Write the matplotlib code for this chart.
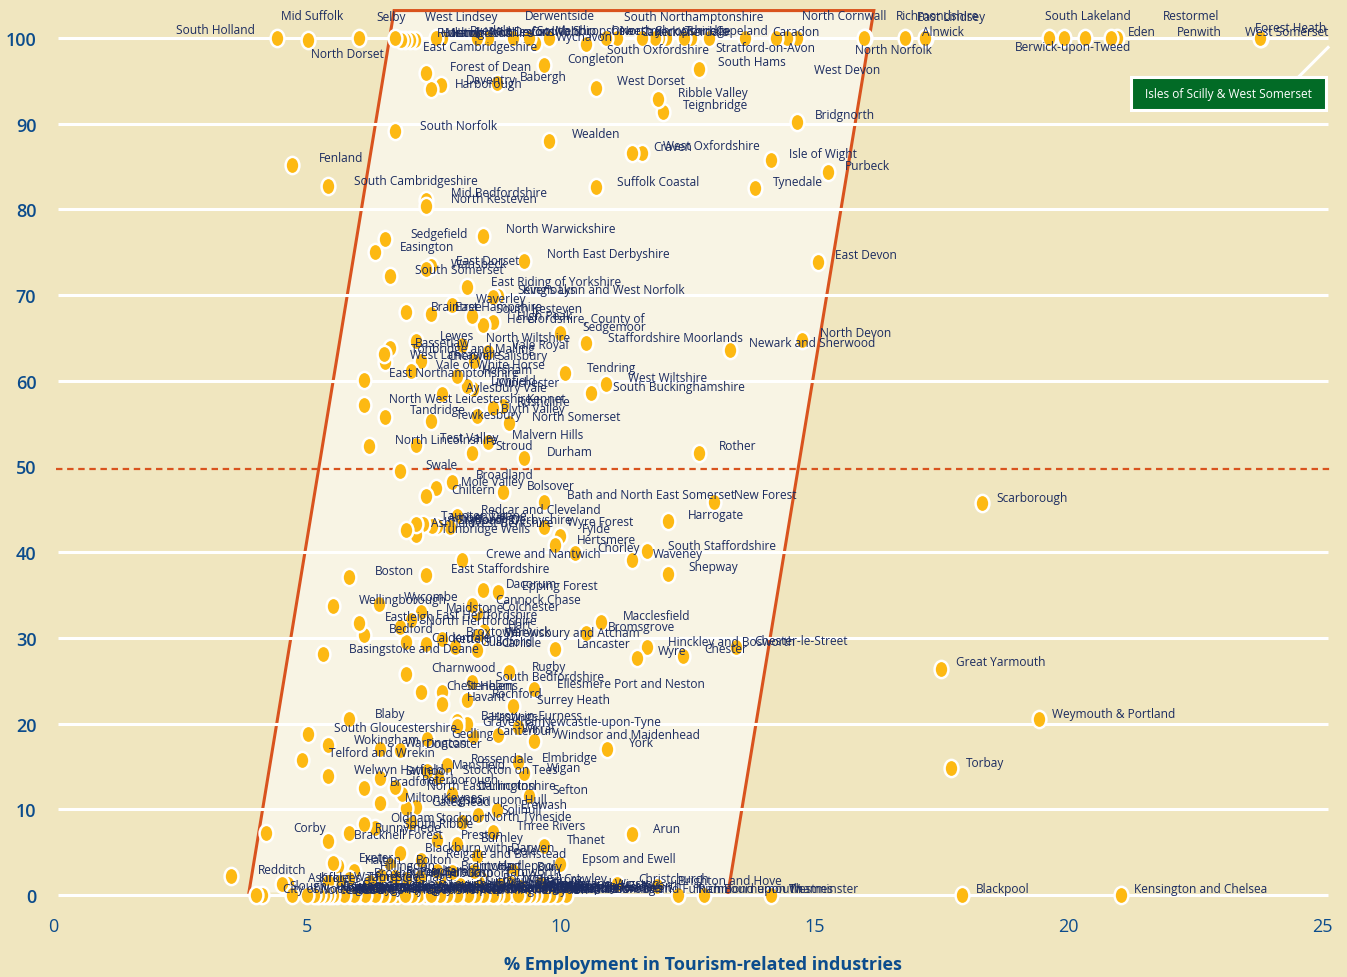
import matplotlib
matplotlib.use("Agg")
import matplotlib.pyplot as plt
from matplotlib.markers import MarkerStyle
from matplotlib.patches import Polygon, Rectangle
from matplotlib.path import Path
from matplotlib.transforms import Affine2D

plt.rcParams["font.family"] = ["Open Sans", "DejaVu Sans"]

BG = "#f0e6bf"
INNER = "#f8f4e4"
RED = "#d9531e"
YELLOW = "#fdb913"
NAVY = "#1c2c60"
BLUE = "#0c4c8c"
GREEN = "#026b26"

# x = % employment in tourism, y = the vertical scale. dx/dy = label offset in pixels
# names inside the overprinted clumps at y=100 and y=0 can't be read, best guesses there

top_names = ["South Holland", "Mid Suffolk", "North Dorset", "Selby", "Huntingdonshire", "Rutland", "Melton",
             "Hambleton", "West Lindsey", "Ryedale", "Mid Devon", "Uttlesford", "Cotswold", "South Shropshire",
             "East Cambridgeshire", "Derwentside", "Wychavon", "Mendip", "South Oxfordshire",
             "South Northamptonshire", "Oswestry", "North Shropshire", "Carrick", "Kerrier", "Allerdale",
             "Torridge", "Stratford-on-Avon", "Copeland", "Caradon", "West Devon", "North Cornwall",
             "North Norfolk", "Richmondshire", "East Lindsey", "Alnwick", "South Lakeland",
             "Berwick-upon-Tweed", "Restormel", "Penwith", "Eden", "Forest Heath", "West Somerset"]
top_x = [4.41, 5.02, 6.03, 6.74, 6.86, 6.93, 7.03, 7.13, 7.55, 7.66, 8.35, 8.57, 9.06, 9.38,
         9.5, 9.77, 10.5, 10.89, 11.11, 11.6, 11.86, 11.94, 12.08, 12.43, 12.57, 12.92, 13.63, 14.24,
         14.46, 14.66, 15.98, 15.99, 16.78, 17.18, 17.2, 19.62, 19.92, 20.33, 20.84, 20.96, 23.78, 23.79]
top_y = [100, 99.8, 100, 100, 99.8, 99.8, 99.8, 99.8, 100, 100, 100, 100, 100, 100,
         99.4, 100, 99.3, 100, 100, 100, 100, 100, 100, 100, 100, 100, 100, 100,
         100, 100, 100, 100, 100, 100, 100, 100, 100, 100, 100, 100, 100, 100]
top_dx = [-101, -27, -48, -19, 40, 32, 35, 37, -11, 28, 13, 12, 17, 8,
          -112, -24, -30, -51, -10, -18, -45, -39, -26, -29, -11, -24, -29, -61,
          -15, 17, -62, -10, -9, -8, -4, -4, -49, 78, 66, 11, -5, -16]
top_dy = [8, 24, -15, 21, 7, 7, 7, 7, 21, 7, 7, 7, 7, 7,
          -3, 22, 7, 7, -12, 21, 7, 7, 7, 7, 7, 7, -10, 7,
          7, -32, 22, -12, 23, 22, 7, 22, -8, 22, 7, 7, 11, 7]

high_names = ["Forest of Dean", "Harborough", "Daventry", "Babergh", "Congleton", "West Dorset", "South Hams",
              "Ribble Valley", "Teignbridge", "Bridgnorth", "South Norfolk", "Wealden", "Fenland",
              "South Cambridgeshire", "Craven", "West Oxfordshire", "Isle of Wight", "Purbeck",
              "Suffolk Coastal", "Tynedale", "Mid Bedfordshire", "North Kesteven"]
high_x = [7.35, 7.64, 7.45, 8.75, 9.67, 10.7, 12.73, 11.92, 12.02, 14.66, 6.74, 9.77, 4.71,
          5.42, 11.41, 11.6, 14.14, 15.27, 10.7, 13.83, 7.35, 7.35]
high_y = [95.9, 94.5, 94.0, 94.7, 96.9, 94.2, 96.4, 92.9, 91.4, 90.2, 89.1, 88.0, 85.2,
          82.7, 86.6, 86.6, 85.8, 84.4, 82.6, 82.5, 81.1, 80.4]
high_dx = [24, 14, 35, 23, 23, 21, 19, 20, 20, 18, 25, 23, 27, 26, 21, 21, 18, 17, 21, 18, 25, 25]
high_dy = [7, 2, 10, 7, 6, 7, 7, 6, 7, 7, 6, 7, 7, 6, 6, 7, 6, 6, 6, 6, 7, 7]

upper_names = ["Sedgefield", "Easington", "North Warwickshire", "North East Derbyshire", "East Devon",
               "South Somerset", "Wansbeck", "East Dorset", "East Riding of Yorkshire", "Sevenoaks",
               "King's Lynn and West Norfolk", "Waverley", "Braintree", "East Hampshire", "South Kesteven",
               "High Peak", "Herefordshire, County of", "Sedgemoor", "Staffordshire Moorlands",
               "Newark and Sherwood", "North Devon", "Lewes", "Bassetlaw", "Tonbridge and Malling",
               "West Lancashire", "North Wiltshire", "Vale Royal", "Cherwell", "Salisbury"]
upper_x = [6.54, 6.34, 8.47, 9.28, 15.07, 6.64, 7.35, 7.45, 8.16, 8.67, 8.77, 7.86, 6.95, 7.45, 8.25,
           8.67, 8.47, 9.99, 10.5, 13.34, 14.76, 7.15, 6.64, 6.52, 6.54, 8.06, 8.57, 7.25, 8.29]
upper_y = [76.5, 75.0, 76.9, 74.0, 73.9, 72.2, 73.0, 73.4, 70.9, 69.8, 69.9, 68.8, 68.0, 67.8, 67.6,
           66.9, 66.5, 65.6, 64.4, 63.6, 64.8, 64.6, 63.8, 63.1, 62.2, 64.2, 63.4, 62.3, 62.3]
upper_dx = [25, 25, 23, 23, 17, 25, 25, 25, 24, 24, 25, 24, 25, 24, 24, 24, 24, 22, 22, 19, 18, 24, 25, 27, 25,
            24, 24, 26, 24]
upper_dy = [6, 6, 7, 7, 7, 7, 6, 5, 6, 7, 6, 7, 6, 7, 7, 6, 7, 6, 6, 7, 7, 6, 6, 6, 7, 7, 7, 6, 6]

middle_names = ["Vale of White Horse", "Horsham", "East Northamptonshire", "Tendring", "West Wiltshire",
                "South Buckinghamshire", "Lichfield", "Winchester", "Aylesbury Vale",
                "North West Leicestershire", "Rushcliffe", "Kennet", "Tandridge", "Tewkesbury", "Blyth Valley",
                "North Somerset", "Malvern Hills", "Test Valley", "North Lincolnshire", "Stroud", "Durham",
                "Rother", "Swale", "Broadland", "Mole Valley", "Chiltern", "Bolsover",
                "Bath and North East Somerset", "New Forest", "Scarborough", "Harrogate",
                "Redcar and Cleveland", "Wyre Forest", "Tunbridge Wells", "Ashfield", "Taunton Deane",
                "Amber Valley", "Stafford", "South Derbyshire", "West Berkshire", "Fylde", "Hertsmere"]
middle_x = [7.05, 7.96, 6.13, 10.09, 10.89, 10.6, 8.16, 8.27, 7.66, 6.13, 8.67, 8.87, 6.54, 7.45, 8.35,
            8.98, 8.57, 7.15, 6.23, 8.25, 9.28, 12.73, 6.84, 7.86, 7.55, 7.35, 8.87,
            9.67, 13.02, 18.3, 12.12, 7.96, 9.67, 7.15, 6.95, 7.15, 7.29, 7.47, 7.82, 7.57, 9.99, 9.89]
middle_y = [61.1, 60.6, 60.1, 60.9, 59.6, 58.6, 59.4, 59.0, 58.5, 57.2, 56.8, 57.1, 55.8, 55.3, 55.9,
            55.1, 52.9, 52.5, 52.4, 51.6, 51.0, 51.6, 49.5, 48.2, 47.5, 46.6, 47.0,
            45.9, 45.9, 45.7, 43.6, 44.2, 42.9, 42.0, 42.6, 43.3, 43.3, 43.1, 42.9, 43.1, 41.9, 40.8]
middle_dx = [25, 25, 25, 22, 22, 22, 24, 25, 24, 25, 24, 24, 25, 25, 24, 23, 24, 24, 26, 24, 23, 20, 25, 24, 25,
             25, 24, 23, 20, 14, 20, 24, 23, 25, 25, 25, 25, 25, 25, 33, 22, 22]
middle_dy = [7, 6, 7, 6, 7, 6, 5, 7, 6, 6, 7, 7, 7, 7, 7, 6, 7, 8, 6, 7, 6, 7, 6, 7, 6,
             6, 7, 7, 7, 6, 7, 7, 6, 7, 7, 8, 6, 6, 8, 3, 7, 6]

lower_names = ["Chorley", "Crewe and Nantwich", "Waveney", "South Staffordshire", "Shepway", "Boston",
               "East Staffordshire", "Dacorum", "Epping Forest", "Cannock Chase", "Wycombe", "Wellingborough",
               "Maidstone", "Colchester", "Eastleigh", "East Hertfordshire", "North Hertfordshire", "Hart",
               "Bedford", "Macclesfield", "Bromsgrove", "Shrewsbury and Atcham", "Warwick", "Broxtowe",
               "Calderdale", "Kettering", "Guildford", "Carlisle", "Lancaster", "Basingstoke and Deane",
               "Hinckley and Bosworth", "Wyre", "Chester", "Chester-le-Street", "Great Yarmouth", "Charnwood",
               "Rugby", "South Bedfordshire", "Ellesmere Port and Neston", "Cheltenham", "St Helens",
               "Rochford", "Havant", "Surrey Heath"]
lower_x = [10.28, 8.06, 11.41, 11.7, 12.12, 5.83, 7.35, 8.47, 8.77, 8.25, 6.42, 5.52, 7.25, 8.36, 6.03, 7.05,
           6.84, 8.49, 6.13, 10.8, 10.5, 8.41, 8.37, 7.66, 6.95, 7.35, 7.92, 8.35, 9.89, 5.32, 11.7, 11.5,
           12.41, 13.46, 17.49, 6.95, 8.98, 8.25, 9.48, 7.25, 7.66, 8.16, 7.66, 9.06]
lower_y = [39.9, 39.1, 39.1, 40.1, 37.5, 37.1, 37.3, 35.6, 35.4, 33.8, 34.0, 33.7, 33.0, 32.9, 31.7, 32.1,
           31.3, 30.8, 30.3, 31.9, 30.6, 29.8, 30.2, 29.9, 29.5, 29.3, 28.9, 28.6, 28.7, 28.1, 28.9, 27.7,
           27.9, 28.9, 26.4, 25.8, 26.0, 24.9, 24.0, 23.7, 23.7, 22.8, 22.3, 22.1]
lower_dx = [22, 24, 21, 21, 20, 26, 25, 23, 24, 24, 25, 26, 25, 24, 26, 25, 26, 24, 25, 22, 22, 24, 27, 24,
            25, 27, 25, 24, 22, 26, 21, 21, 21, 18, 15, 25, 23, 24, 23, 25, 24, 25, 25, 24]
lower_dy = [6, 6, 6, 6, 7, 7, 7, 6, 6, 6, 7, 7, 5, 7, 7, 5, 6, 7, 7, 6, 6, 7, 5, 7,
            5, 5, 6, 7, 6, 6, 6, 7, 7, 7, 7, 6, 6, 5, 6, 6, 6, 6, 7, 6]

urban_names = ["Weymouth & Portland", "Blaby", "South Gloucestershire", "Barrow-in-Furness", "Gravesham",
               "Newcastle-upon-Tyne", "Hastings", "Gedling", "Canterbury", "Wirral", "Windsor and Maidenhead",
               "York", "Wokingham", "Warrington", "Doncaster", "Telford and Wrekin", "Rossendale", "Elmbridge",
               "Wigan", "Mansfield", "Stockton on Tees", "Welwyn Hatfield", "Torbay", "Swindon", "Peterborough",
               "Bradford", "North East Lincolnshire", "Darlington", "Sefton", "Milton Keynes", "Gateshead",
               "Solihull", "Erewash", "Kingston upon Hull", "Oldham", "Stockport", "South Ribble",
               "North Tyneside", "Runnymede", "Corby", "Bracknell Forest", "Three Rivers", "Arun", "Preston",
               "Burnley", "Thanet", "Blackburn with Darwen", "Reigate and Banstead", "Poole", "Epsom and Ewell",
               "Exeter", "Halton", "Hillingdon", "Bolton"]
urban_x = [19.42, 5.83, 5.02, 7.96, 7.96, 9.16, 8.16, 7.37, 8.27, 8.77, 9.48, 10.91, 5.42, 6.44, 6.84, 4.91, 7.76,
           9.16, 9.28, 7.37, 7.58, 5.42, 17.69, 6.44, 6.74, 6.13, 6.88, 7.86, 9.38, 6.44, 6.95, 8.37, 8.75, 7.15,
           6.13, 7.05, 6.34, 8.06, 5.83, 4.2, 5.42, 8.67, 11.41, 7.56, 7.96, 9.67, 6.84, 7.25, 8.35, 9.99,
           5.52, 5.61, 5.93, 6.64]
urban_y = [20.5, 20.5, 18.8, 20.3, 19.7, 19.6, 20.0, 18.2, 18.6, 18.7, 18.0, 17.0, 17.5, 17.0, 16.9, 15.8, 15.2,
           15.5, 14.2, 14.5, 13.8, 13.9, 14.8, 13.7, 12.6, 12.5, 11.8, 11.8, 11.6, 10.7, 10.2, 9.3, 9.9, 10.3,
           8.3, 8.5, 7.8, 8.5, 7.2, 7.2, 6.3, 7.4, 7.1, 6.4, 6.0, 5.7, 4.9, 4.1, 4.6, 3.6,
           3.7, 3.4, 2.8, 3.5]
urban_dx = [13, 26, 26, 24, 25, 24, 24, 24, 23, 24, 23, 22, 26, 25, 26, 27, 24, 24, 23, 25, 25, 26, 15, 25, 27,
            26, 25, 26, 23, 25, 25, 24, 24, 25, 26, 25, 28, 25, 26, 27, 26, 24, 21, 24, 24, 23, 25, 25, 30, 22,
            26, 27, 26, 26]
urban_dy = [6, 6, 6, 6, 5, 6, 7, 6, 5, 6, 6, 7, 6, 7, 7, 7, 6, 5, 6, 6, 7, 6, 6, 7, 8,
            6, 8, 8, 6, 6, 6, 6, 6, 7, 6, 5, 5, 6, 6, 6, 7, 6, 6, 6, 6, 7, 6, 6, 5, 6,
            6, 6, 6, 6]

low_names = ["Broxbourne", "Brentwood", "Hartlepool", "Bury", "Ashford", "Kirklees", "Redditch", "Christchurch",
             "Brighton and Hove", "Tamworth", "Rochdale", "Lincoln", "Gosport", "Fareham", "Hyndburn", "Pendle",
             "Rotherham", "Stevenage", "Tameside", "Watford", "Walsall", "Thurrock", "Crawley", "Barnsley", "Sutton"]
low_x = [5.83, 7.56, 8.29, 9.06, 4.51, 4.63, 3.51, 11.11, 11.9, 8.43, 8.39, 7.86, 7.62, 7.23, 6.95, 6.74,
         6.46, 6.25, 5.65, 5.42, 8.81, 9.0, 9.59, 9.2, 8.02]
low_y = [1.9, 2.8, 2.8, 2.8, 1.3, 1.3, 2.2, 1.3, 1.0, 2.0, 1.4, 2.7, 1.9, 2.1, 1.9, 2.1,
         2.2, 1.5, 1.5, 1.5, 1.2, 1.4, 1.3, 0.9, 1.2]
low_dx = [25, 24, 24, 24, 26, 31, 27, 21, 21, 24, 24, 24, 25, 25, 25, 25, 25, 25, 27, 26, 24, 24, 23, 23, 24]
low_dy = [6, 6, 6, 5, 6, 6, 7, 5, 6, 6, 6, 6, 6, 6, 6, 6, 6, 6, 6, 6, 5, 4, 5, 4, 4]

zero_names = ["City of Nottingham", "Slough", "Worcester", "Gloucester", "Norwich", "Oxford", "Cambridge", "Reading",
              "Luton", "Derby", "Leicester", "Coventry", "Dudley", "Plymouth", "Portsmouth", "Southampton",
              "Salford", "Sheffield", "Leeds", "Liverpool", "Manchester", "Birmingham", "Wolverhampton",
              "Bristol", "Barnet", "Croydon", "Ealing", "Enfield", "Greenwich", "Hammersmith and Fulham",
              "Islington", "Middlesbrough", "Stoke-on-Trent", "Richmond upon Thames", "Bournemouth", "Westminster",
              "Blackpool", "Kensington and Chelsea"]
zero_x = [4.0, 4.12, 4.71, 5.0, 5.14, 5.24, 5.34, 5.42, 5.52, 5.73, 5.93, 6.15, 6.34, 6.5, 6.64, 6.93,
          7.07, 7.45, 7.62, 7.76, 7.96, 8.18, 8.31, 8.47, 8.67, 9.16, 9.3, 9.4, 9.5, 9.65,
          9.79, 9.93, 10.11, 12.31, 12.82, 14.14, 17.91, 21.04]
zero_y = [0, 0, 0, 0, 0, 0, 0, 0, 0, 0, 0, 0, 0, 0, 0, 0, 0, 0, 0,
          0, 0, 0, 0, 0, 0, 0, 0, 0, 0, 0, 0, 0, 0, 0, 0, 0, 0, 0]
zero_dx = [27, 27, 26, 28, 26, 26, 26, 26, 26, 26, 25, 25, 25, 25, 25, 25,
           25, 24, 24, 24, 24, 24, 24, 24, 24, 23, 23, 23, 23, 32,
           23, 23, 23, 20, 20, 18, 14, 13]
zero_dy = [6, 9, 5, 9, 7, 5, 8, 6, 7, 5, 8, 6, 7, 5, 8, 6,
           7, 5, 8, 6, 7, 5, 8, 6, 7, 5, 8, 6, 7, 6,
           8, 6, 7, 6, 6, 6, 6, 6]

# second layer of the y=0 clump, sits on the same dots and thickens the overprint
clump_names = ["Barking and Dagenham", "Bexley", "Brent", "Bromley", "Camden", "Hackney", "Haringey", "Harrow",
               "Havering", "Hounslow", "Lambeth", "Lewisham", "Merton", "Newham", "Redbridge", "Southwark",
               "Tower Hamlets", "Waltham Forest", "Wandsworth", "Sunderland", "Sandwell", "Kingston upon Thames",
               "Nuneaton and Bedworth", "Oadby and Wigston", "Castle Point", "South Tyneside"]
clump_x = [5.2, 5.45, 5.6, 5.85, 6.05, 6.25, 6.42, 6.58, 6.78, 7.0, 7.2, 7.35, 7.55, 7.7, 7.85, 8.05,
           8.25, 8.4, 8.55, 8.75, 8.9, 9.05, 9.22, 9.35, 9.55, 9.7]
clump_y = [0, 0, 0, 0, 0, 0, 0, 0, 0, 0, 0, 0, 0, 0, 0, 0,
           0, 0, 0, 0, 0, 0, 0, 0, 0, 0]
clump_dx = [26, 26, 26, 26, 25, 25, 25, 25, 25, 25, 25, 24, 24, 24, 24, 24,
            24, 24, 24, 24, 23, 23, 23, 23, 23, 23]
clump_dy = [8, 6, 10, 7, 9, 11, 6, 8, 10, 7, 9, 11, 6, 8, 10, 7,
            9, 11, 6, 8, 10, 7, 9, 11, 6, 8]

x_ticks = [0, 5, 10, 15, 20, 25]
y_ticks = [0, 10, 20, 30, 40, 50, 60, 70, 80, 90, 100]
grid_lines = [0, 10, 20, 30, 40, 60, 70, 80, 90, 100]
band_x = [3.86, 6.72, 16.17, 13.3]
band_y = [0.3, 103.2, 103.2, 0.3]

fig = plt.figure(figsize=(13.47, 9.78), dpi=100, facecolor=BG)
ax = fig.add_axes([53 / 1347, 82 / 978, 1269 / 1347, 857 / 978])
ax.set_facecolor(BG)
ax.set_xlim(0, 25)
ax.set_ylim(0, 100)
for s in ax.spines.values():
    s.set_visible(False)

ax.add_patch(Polygon(list(zip(band_x, band_y)), closed=True, facecolor=INNER, edgecolor="none", zorder=1, clip_on=False))
ax.plot(band_x, band_y, color=RED, lw=2.2, zorder=2, clip_on=False, solid_joinstyle="miter")
ax.hlines(grid_lines, 0.1, 25.12, color="white", lw=2.2, zorder=3, clip_on=False)
ax.hlines(49.7, 0.05, 25.2, color=RED, lw=1.6, linestyles=(0, (2.9, 2.1)), zorder=4, clip_on=False)

ax.set_xticks(x_ticks)
ax.set_yticks(y_ticks)
ax.tick_params(axis="both", length=0, labelcolor=BLUE, labelsize=13)
ax.tick_params(axis="x", pad=15.5)
ax.tick_params(axis="y", pad=12)
for lab in ax.get_yticklabels():
    lab.set_fontweight("semibold")
ax.set_xlabel("% Employment in Tourism-related industries", color=BLUE, fontsize=13, fontweight="bold")
ax.xaxis.set_label_coords(650 / 1269, -69 / 857)
ax.xaxis.label.set_verticalalignment("center")

dot = MarkerStyle(Path.unit_circle().transformed(Affine2D().scale(0.8, 1)))


def draw_band(names, xs, ys, dxs, dys):
    # left dots lie over their right neighbours
    order = sorted(range(len(xs)), key=lambda i: -xs[i])
    ax.scatter([xs[i] for i in order], [ys[i] for i in order], s=155, marker=dot, facecolor=YELLOW,
               edgecolor="white", linewidth=1.8, zorder=5, clip_on=False)
    for name, x, y, dx, dy in zip(names, xs, ys, dxs, dys, strict=True):
        ax.annotate(name, (x, y), xytext=(dx, dy), textcoords="offset pixels", color=NAVY, fontsize=8.55,
                    ha="left", va="center", zorder=6, annotation_clip=False)


draw_band(top_names, top_x, top_y, top_dx, top_dy)
draw_band(high_names, high_x, high_y, high_dx, high_dy)
draw_band(upper_names, upper_x, upper_y, upper_dx, upper_dy)
draw_band(middle_names, middle_x, middle_y, middle_dx, middle_dy)
draw_band(lower_names, lower_x, lower_y, lower_dx, lower_dy)
draw_band(urban_names, urban_x, urban_y, urban_dx, urban_dy)
draw_band(low_names, low_x, low_y, low_dx, low_dy)
draw_band(clump_names, clump_x, clump_y, clump_dx, clump_dy)
draw_band(zero_names, zero_x, zero_y, zero_dx, zero_dy)

# callout box, top right
ax.plot([24.53, 25.12], [95.4, 98.9], color="white", lw=2.2, zorder=3, clip_on=False)
ax.add_patch(Rectangle((21.24, 91.6), 3.84, 3.85, facecolor=GREEN, edgecolor="white", lw=2.2, zorder=7, clip_on=False))
ax.text(23.16, 93.53, "Isles of Scilly & West Somerset", color="white", fontsize=8.55, ha="center", va="center", zorder=8)

fig.savefig("out.png", dpi=100, facecolor=BG)
